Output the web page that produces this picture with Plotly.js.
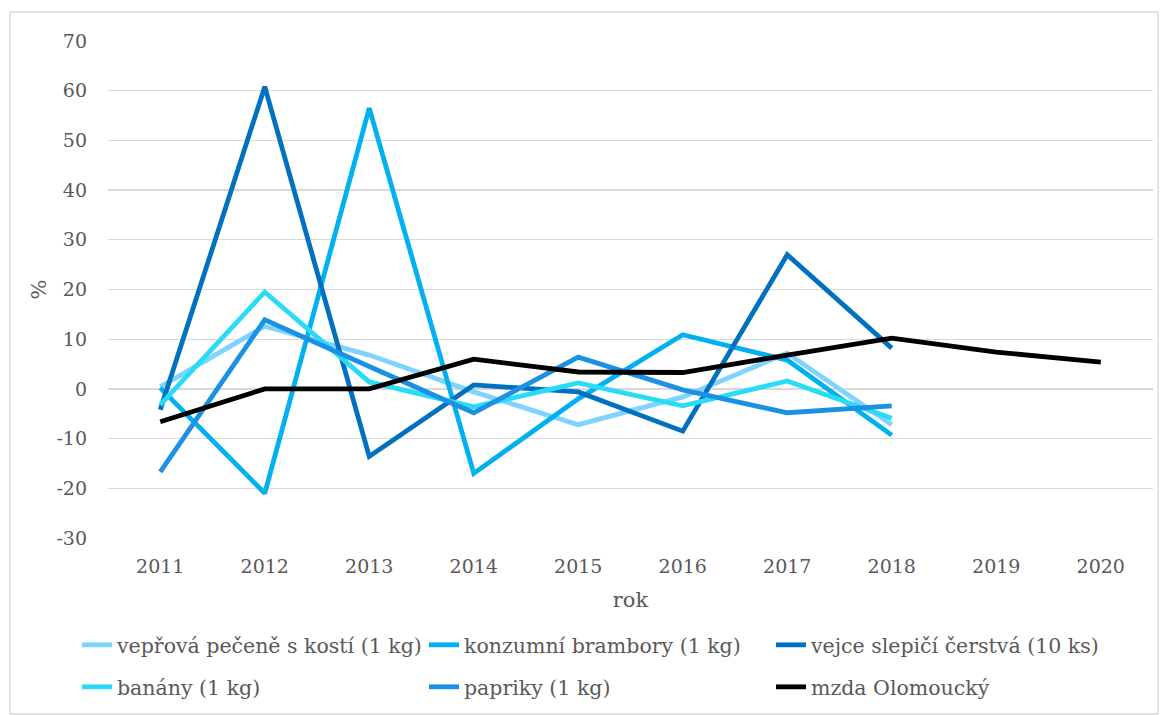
<!DOCTYPE html>
<html>
<head>
<meta charset="utf-8">
<script src="https://cdn.plot.ly/plotly-3.0.1.min.js"></script>
<style>html,body{margin:0;padding:0;background:#fff;}#chart{width:1168px;height:715px;}</style>
</head>
<body>
<div id="chart"></div>
<script>
const years = ['2011','2012','2013','2014','2015','2016','2017','2018','2019','2020'];
const veprova = [0.4, 12.6, 6.8, -0.6, -7.2, -1.6, 7.2, -7.2, null, null];
const brambory = [0.2, -21.0, 56.5, -17.0, -2.0, 10.9, 5.8, -9.3, null, null];
const vejce = [-4.2, 60.8, -13.6, 0.8, -0.6, -8.5, 27.0, 8.2, null, null];
const banany = [-3.2, 19.5, 1.4, -3.6, 1.2, -3.4, 1.6, -5.9, null, null];
const papriky = [-16.7, 13.9, 4.5, -4.8, 6.4, -0.2, -4.8, -3.4, null, null];
const mzda = [-6.6, 0.0, 0.0, 6.0, 3.4, 3.3, 6.8, 10.2, 7.4, 5.4];
const yTickVals = [-30, -20, -10, 0, 10, 20, 30, 40, 50, 60, 70];
const yTickText = ['-30', '-20', '-10', '0', '10', '20', '30', '40', '50', '60', '70'];

const names = ['vepřová pečeně s kostí (1 kg)', 'konzumní brambory (1 kg)', 'vejce slepičí čerstvá (10 ks)', 'banány (1 kg)', 'papriky (1 kg)', 'mzda Olomoucký'];
const colors = ['#7fd3ff', '#00b0f0', '#0070c0', '#28dcf7', '#1a91e3', '#000000'];
const series = [veprova, brambory, vejce, banany, papriky, mzda];
const legends = ['legend', 'legend', 'legend', 'legend2', 'legend2', 'legend2'];

const traces = series.map((s, i) => ({
  x: years, y: s, name: names[i], type: 'scatter', mode: 'lines',
  line: {color: colors[i], width: 4.8},
  legend: legends[i], connectgaps: false
}));

const FAM = 'DejaVu Serif';
const tickFont = {family: FAM, color: '#595959', size: 19};
const L = 108, W = 1045, T = 41, H = 497;
const px = v => (v - L) / W;
const py = v => (T + H - v) / H;

const legendBase = {
  orientation: 'h', xanchor: 'left', yanchor: 'top',
  x: px(77), entrywidth: 302, entrywidthmode: 'pixels',
  font: {family: FAM, color: '#595959', size: 20.5},
  bgcolor: 'rgba(0,0,0,0)', itemwidth: 30, tracegroupgap: 0
};

const layout = {
  width: 1168, height: 715,
  margin: {l: L, r: 1168 - L - W, t: T, b: 715 - T - H, autoexpand: false},
  paper_bgcolor: '#ffffff', plot_bgcolor: '#ffffff',
  font: {family: FAM, color: '#595959', size: 19},
  showlegend: true,
  legend: Object.assign({}, legendBase, {y: py(625)}),
  legend2: Object.assign({}, legendBase, {y: py(667)}),
  xaxis: {
    type: 'category', range: [-0.5, 9.5], showgrid: false, zeroline: false, showline: false,
    ticks: '', tickfont: tickFont, ticklabelstandoff: 15,
    title: {text: 'rok', font: {family: FAM, color: '#595959', size: 21}, standoff: 16}
  },
  yaxis: {
    range: [-30, 70], tickmode: 'array', tickvals: yTickVals, ticktext: yTickText,
    showgrid: true, gridcolor: '#d9d9d9', gridwidth: 1.3,
    zeroline: false, showline: false, ticks: '', tickfont: tickFont, ticklabelstandoff: 20,
    title: {text: '%', font: {family: FAM, color: '#595959', size: 21}, standoff: 4}
  },
  shapes: [{
    type: 'rect', xref: 'paper', yref: 'paper',
    x0: px(10), x1: px(1158), y0: py(714), y1: py(12),
    line: {color: '#d9d9d9', width: 1.3}, fillcolor: 'rgba(0,0,0,0)', layer: 'below'
  }]
};

Plotly.newPlot('chart', traces, layout, {displayModeBar: false, staticPlot: true});
</script>
</body>
</html>
